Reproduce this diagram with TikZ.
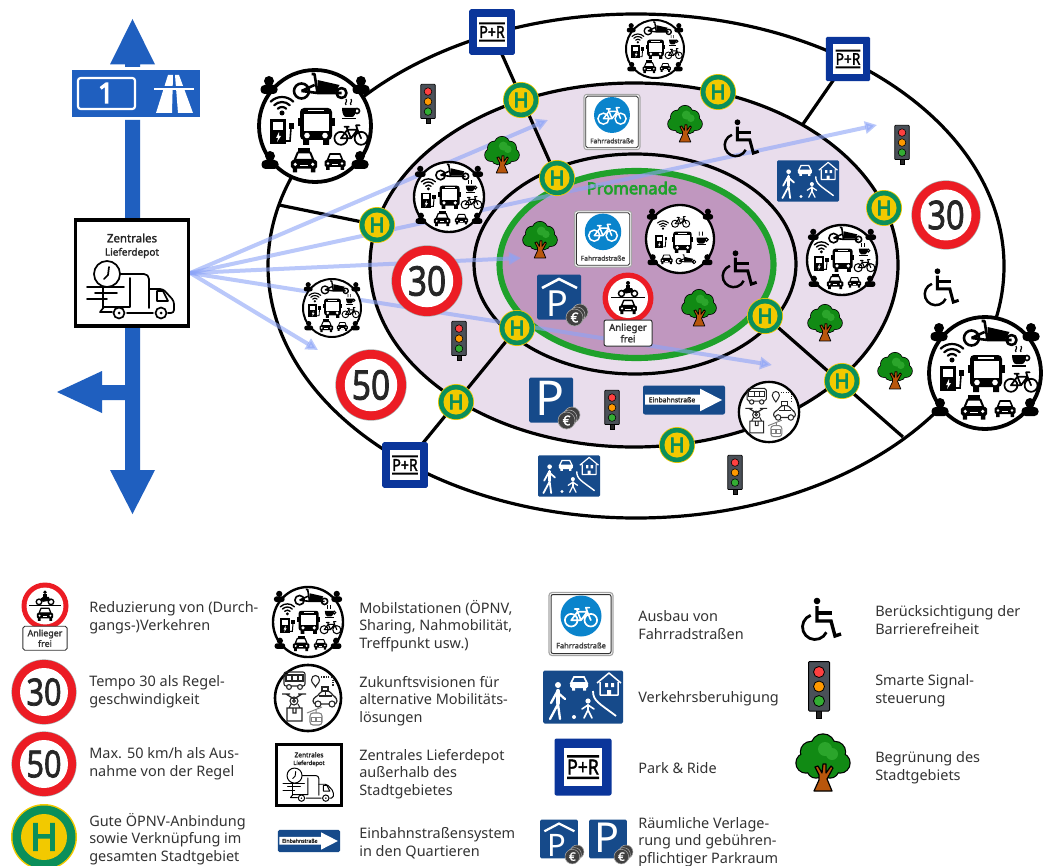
\documentclass[tikz,border=0pt]{standalone}
\usepackage{fontspec}
\setmainfont{Noto Sans}[BoldFont={Noto Sans},BoldFeatures={FakeBold=2}]
\newfontfamily\xbold{Noto Sans}[FakeBold=4]
\usetikzlibrary{arrows.meta}
\definecolor{roadblue}{HTML}{1F5FBF}
\definecolor{signblue}{HTML}{164A8A}
\definecolor{prblue}{HTML}{0A359A}
\definecolor{cycblue}{HTML}{0A84CC}
\definecolor{lilac}{HTML}{E9DDEC}
\definecolor{promfill}{HTML}{C097BF}
\definecolor{promgreen}{HTML}{1FA12B}
\definecolor{hgreen}{HTML}{0B8F5A}
\definecolor{hyellow}{HTML}{F2C900}
\definecolor{signred}{HTML}{EC1C24}
\definecolor{flow}{HTML}{8CA4F8}
\definecolor{treeg}{HTML}{118A14}
\definecolor{treel}{HTML}{2BA52B}
\definecolor{trunk}{HTML}{B8560C}
\definecolor{lamp}{HTML}{4A5058}
\definecolor{txt}{HTML}{333333}
\newcount\nodecnt
\tikzset{
  autoname/.code={\global\advance\nodecnt by 1 \tikzset{name=n\the\nodecnt}},
  every node/.style={transform shape,autoname,inner sep=0pt},
  w/.style={line width=\Sc*#1*.75pt},
  rc/.style={rounded corners=\Sc*#1*.75pt},
  ring/.style={line width=2.4pt,draw=black},
  spoke/.style={line width=2.4pt,draw=black},
  flowarrow/.style={line width=3pt,draw=flow,opacity=.6,-{Triangle[length=9pt,width=9pt]}},
  legend/.style={anchor=west,align=left,text=txt,font=\fontsize{10.85}{13.2}\selectfont},
}
\def\Sc{1}
\newenvironment{ic}[3]{\begin{scope}[shift={(#1,#2)},scale=#3]\pgfmathsetmacro\Sc{\Sc*#3}}{\end{scope}}
\newcommand\Arc[5]{({#1+#3*cos(#4)},{#2+#3*sin(#4)}) arc [start angle=#4,end angle=#5,radius=#3]}
% ---- small pictograms
\newcommand\Bike[4]{\begin{ic}{#1}{#2}{#3}
 \draw[draw=#4,w=2.4,line join=round,line cap=round] (-14,6) circle[radius=9] (14,6) circle[radius=9] (-14,6)--(-5,-6)--(9,-6)--(14,6) (-14,6)--(0,6)--(-5,-6) (0,6)--(9,-6) (-9,-10)--(-3,-10) (-5,-6)--(-6,-10) (9,-6)--(7,-12)--(12,-12);
 \end{ic}}
\newcommand\Cargo[3]{\begin{ic}{#1}{#2}{#3}
 \draw[w=2.6,line join=round] (-19,4) circle[radius=7.5] (21,6) circle[radius=5] (-19,4)--(-6,-2) (-19,4)--(-3,6)--(21,6) (-9,-13)--(-6,-13)--(-3,6);
 \fill (-3,-7)--(19,-2)--(15,5)--(-3,5)--cycle;
 \end{ic}}
\newcommand\Wifi[3]{\begin{ic}{#1}{#2}{#3}
 \fill (0,6) circle[radius=2.5];
 \draw[w=2.2,line cap=round] \Arc{0}{6}{6}{-135}{-45}{} \Arc{0}{6}{11}{-135}{-45}{} \Arc{0}{6}{16}{-135}{-45}{};
 \end{ic}}
\newcommand\Charger[3]{\begin{ic}{#1}{#2}{#3}
 \fill (-12.5,-13) rectangle (4,12);
 \fill[white] (-9,-10) rectangle (1,-2);
 \fill[white] (-3,0)--(-6,6)--(-4,6)--(-5,10)--(-1,4)--(-3,4)--cycle;
 \draw[w=1.6] (4,9)--(8,9)--(9,-4);
 \fill (6.5,-9) rectangle (12,-3);
 \end{ic}}
\newcommand\Bus[3]{\begin{ic}{#1}{#2}{#3}
 \fill[rc=4] (-16,-18) rectangle (16,14);
 \fill (-18.5,-8) rectangle (18.5,0);
 \fill (-13,13) rectangle (-7,19) (7,13) rectangle (13,19);
 \fill[white] (-12.5,-12) rectangle (12.5,5);
 \fill[white] (-8,-16) rectangle (8,-14.5);
 \fill[white] (-9,9.5) circle[radius=2.8] (9,9.5) circle[radius=2.8];
 \end{ic}}
\newcommand\Coffee[3]{\begin{ic}{#1}{#2}{#3}
 \fill (-8,-2) -- (6,-2) .. controls (6,4) and (4,7) .. (2,7) -- (-4,7) .. controls (-6,7) and (-8,4) .. (-8,-2);
 \draw[w=1.6] (7,1) circle[radius=2.5];
 \fill (-8,8) rectangle (6,9.5);
 \draw[w=1.2] (-4,-5) .. controls (-6,-7) and (-2,-8) .. (-4,-11) (1,-5) .. controls (-1,-7) and (3,-8) .. (1,-11);
 \end{ic}}
\newcommand\Car[3]{\begin{ic}{#1}{#2}{#3}
 \draw[w=1.6,fill=white,line join=round] (-7.5,0)--(-5,-6)--(5,-6)--(7.5,0)--cycle;
 \fill[rc=1.5] (-10.5,0) rectangle (10.5,7);
 \fill (-9,6) rectangle (-5.5,10) (5.5,6) rectangle (9,10);
 \fill[white] (-7,3.5) circle[radius=1.4] (7,3.5) circle[radius=1.4];
 \fill[white] (-3,4) rectangle (3,5);
 \end{ic}}
\newcommand\Taxi[3]{\begin{ic}{#1}{#2}{#3}
 \Car{0}{0}{1}
 \fill (-4.5,-9.5) rectangle (4.5,-6);
 \end{ic}}
\newcommand\Person[2]{\begin{ic}{#1}{#2}{1}
 \fill (0,-7) circle[radius=5];
 \fill[rc=4] (-8.5,-3) rectangle (8.5,6);
 \end{ic}}
\newcommand\Mobil[4]{\pgfmathsetmacro\rs{#3/56}\begin{ic}{#1}{#2}{\rs}
 \fill[white] (0,0) circle[radius=56];
 \draw[w=3.8] (0,0) circle[radius=56];
 \Person{-46}{-38}\Person{46}{-38}\Person{-45}{37}\Person{45}{37}
 \ifnum#4=0
  \Cargo{5.5}{-39}{1}\Wifi{-33}{-19}{1}\Charger{-33}{6}{1}\Bus{1}{0}{1}\Coffee{35}{-16}{1}\Bike{36}{8}{.72}{black}\Taxi{-11}{34}{1.25}\Car{20}{34}{1}
 \else
  \Bike{1}{-29}{.65}{black}\Wifi{-28}{-22}{.8}\Charger{-31}{5}{.85}\Bus{4}{5}{.95}\Coffee{36}{0}{1.1}\Car{-22}{32}{.95}\Cargo{10}{34}{.62}
 \fi
 \end{ic}}
\newcommand\Limit[4]{\pgfmathsetmacro\rs{#3/32}\begin{ic}{#1}{#2}{\rs}
 \fill[gray!70] (0,0) circle[radius=32.6];
 \fill[signred] (0,0) circle[radius=32];
 \fill[white] (0,0) circle[radius=24];
 \node[xscale=.82,text=black!85,font=\fontsize{28}{28}\selectfont\bfseries] at (0,0) {#4};
 \end{ic}}
\newcommand\Hsign[3]{\pgfmathsetmacro\rs{#3/33}\begin{ic}{#1}{#2}{\rs}
 \fill[hyellow] (0,0) circle[radius=33];
 \fill[hgreen] (0,0) circle[radius=31.5];
 \fill[hyellow] (0,0) circle[radius=23];
 \node[text=hgreen,font=\xbold\fontsize{28}{28}\selectfont] at (0,0) {H};
 \end{ic}}
\newcommand\PRsign[3]{\begin{ic}{#1}{#2}{#3}
 \fill[prblue,rc=2] (-28.5,-28.5) rectangle (28.5,28.5);
 \fill[white] (-19,-19) rectangle (19,19);
 \fill[black] (-16,-12) rectangle (16,-9.5) (-16,9.5) rectangle (16,12);
 \node[xscale=.85,font=\fontsize{15.5}{15.5}\selectfont\bfseries] at (0,0) {P+R};
 \end{ic}}
\newcommand\Fahrrad[3]{\begin{ic}{#1}{#2}{#3}
 \fill[white,draw=gray!70,w=1.2,rc=3] (-32,-31.5) rectangle (32,31.5);
 \draw[black!80,w=1,rc=2] (-30,-29.5) rectangle (30,29.5);
 \fill[cycblue] (0,-8) circle[radius=20.5];
 \Bike{0}{-8}{.7}{white}
 \node[text=black!75,font=\fontsize{5.6}{6}\selectfont\bfseries] at (0,21.5) {Fahrradstraße};
 \end{ic}}
\newcommand\Park[4]{\begin{ic}{#1}{#2}{#3}
 \fill[signblue,rc=1.5] (-22,-22.5) rectangle (22,22.5);
 \ifnum#4=0
  \node[text=white,font=\fontsize{36}{36}\selectfont] at (-1,-2) {P};
 \else
  \draw[white,w=2.6] (-17,-9)--(0,-18)--(18,-9);
  \node[text=white,font=\fontsize{27}{27}\selectfont] at (-2,7) {P};
 \fi
 \draw[gray!70,fill=black!75,w=.6] (21,15) circle[radius=8] (18,18) circle[radius=8];
 \draw[gray!70,fill=black!75,w=.6] (15.5,20.5) circle[radius=8.5];
 \node[text=white,font=\fontsize{10}{10}\selectfont\bfseries] at (15.5,20.5) {€};
 \end{ic}}
\newcommand\Moto[3]{\begin{ic}{#1}{#2}{#3}
 \draw[w=1.5] (-6.5,3.5) circle[radius=3] (6.5,3.5) circle[radius=3];
 \fill (-6,1)--(-2,-2)--(4,-2)--(6,2)--(-2,3.5)--cycle;
 \fill (-2,-5.5) rectangle (2,-1);
 \fill (0,-7) circle[radius=2];
 \end{ic}}
\newcommand\Anlieger[3]{\pgfmathsetmacro\rs{#3/25.5}\begin{ic}{#1}{#2}{\rs}
 \fill[signred] (0,0) circle[radius=25.5];
 \fill[white] (0,0) circle[radius=20];
 \Moto{0}{-8}{1}
 \draw[w=1.2] (-17,-.5)--(17,-.5);
 \Car{0}{7.5}{.85}
 \fill[white,draw=black!80,w=1,rc=2] (-24,22) rectangle (24,48);
 \node[align=center,text=black!80,font=\fontsize{7.2}{8.6}\selectfont\bfseries] at (0,35) {Anlieger\\ frei};
 \end{ic}}
\newcommand\Einbahn[3]{\begin{ic}{#1}{#2}{#3}
 \fill[signblue,rc=2] (-41,-14.5) rectangle (41,14.5);
 \fill[white] (-39,-5.3)--(16,-5.3)--(16,-11.3)--(38,0)--(16,11.3)--(16,4.7)--(-39,4.7)--cycle;
 \node[text=black!85,font=\fontsize{5.1}{6}\selectfont\bfseries] at (-12,-.3) {Einbahnstraße};
 \end{ic}}
\newcommand\Tree[3]{\begin{ic}{#1}{#2}{#3}
 \def\cl{(0,-17) circle[radius=11.5] (-12,-11) circle[radius=10] (12,-11) circle[radius=10] (-17,0) circle[radius=9.5] (17,0) circle[radius=9.5] (-7,6) circle[radius=8.5] (7,6) circle[radius=8.5] (0,-3) circle[radius=12]}
 \draw[w=2.4] \cl;
 \fill[treeg] \cl;
 \fill[treel] (2,-14) circle[radius=7] (9,-9) circle[radius=6];
 \draw[fill=trunk,w=1.2,line join=round] (-9,28)--(-4,17)--(-4,12)--(-8,4)--(-5,3)--(-1,10)--(0,1)--(3,1)--(3,10)--(8,3)--(10,5)--(4,16)--(9,28)--cycle;
 \end{ic}}
\newcommand\Tlight[3]{\begin{ic}{#1}{#2}{#3}
 \draw[w=1,fill=black!85] (-2.8,20) rectangle (2.8,28);
 \draw[fill=lamp,w=1,rc=1] (-10.5,-28.5) rectangle (10.5,21);
 \draw[fill=red!75!white,w=.8] (0,-18) circle[radius=5.5];
 \draw[fill=orange!80!yellow,w=.8] (0,-3.5) circle[radius=5.5];
 \draw[fill=green!60!black!80!white,w=.8] (0,11) circle[radius=5.5];
 \end{ic}}
\newcommand\Wheelchair[3]{\begin{ic}{#1}{#2}{#3}
 \fill (-4,-19) circle[radius=3.3];
 \draw[w=3.4,line join=miter] (-4,-14)--(-4,1)--(10,1)--(14,16)--(20,14);
 \draw[w=3.2] (-4,-7)--(11,-7);
 \draw[w=2.8] \Arc{-6}{7}{12.5}{250}{25}{};
 \end{ic}}
\newcommand\Verkehr[3]{\begin{ic}{#1}{#2}{#3}
 \fill[signblue,rc=1.5] (-40,-26.5) rectangle (40,26.5);
 \fill[white] (-25,-12) circle[radius=3] (5,4) circle[radius=2.6] (-9,20) circle[radius=2];
 \draw[white,w=4.2,line cap=round] (-25,-6)--(-25,6);
 \draw[white,w=2.3,line cap=round,line join=round] (-25,7)--(-33,22) (-25,7)--(-23,22) (-32,6)--(-26,-5)--(-18,2);
 \draw[white,w=2.6,line cap=round] (5,8)--(5,13);
 \draw[white,w=1.6,line cap=round,line join=round] (5,13)--(1,21) (5,13)--(9,21) (-1,12)--(5,8)--(11,12);
 \draw[white,w=1.6,fill=signblue] (-12,-14)--(-9,-20)--(1,-20)--(4,-14)--cycle;
 \fill[white,rc=1.5] (-13,-14) rectangle (5,-9);
 \fill[white] (-11,-9) rectangle (-8,-6.5) (0,-9) rectangle (3,-6.5);
 \draw[white,w=1.5,line join=round] (14,-14)--(26,-24)--(38,-14) (17,-15)--(17,-2)--(35,-2)--(35,-15);
 \fill[white] (22,-14) rectangle (25,-10) (28,-14) rectangle (31,-10) (24,-7) rectangle (28,-2);
 \draw[white,w=1.8] (10,-6) .. controls (10,4) and (16,6) .. (33,19);
 \end{ic}}
\newcommand\Future[3]{\pgfmathsetmacro\rs{#3/34}\begin{ic}{#1}{#2}{\rs}
 \fill[white] (0,0) circle[radius=34];
 \draw[w=2.6] (0,0) circle[radius=33];
 \begin{scope}[draw=black!85]
 \draw[w=1.1,rc=2] (-24,-26) rectangle (-3,-12);
 \draw[w=1.1] (-22,-23) rectangle (-5,-17) (-16,-23)--(-16,-17) (-10,-23)--(-10,-17);
 \draw[w=1.1,fill=white] (-19,-11) circle[radius=2.4] (-8,-11) circle[radius=2.4];
 \draw[w=1.1] (3.5,-18) .. controls (3.5,-24) and (11.5,-24) .. (11.5,-18) .. controls (11.5,-15) and (8,-13) .. (7.5,-11) .. controls (7,-13) and (3.5,-15) .. (3.5,-18);
 \draw[w=1.1,densely dotted] (13,-21)--(25,-21)--(25,-12);
 \draw[w=1.2,rc=3,line join=round] (5,6)--(5,0)--(10,-2)--(13,-7)--(22,-7)--(25,-2)--(29,0)--(29,6)--cycle;
 \draw[w=1.1] (14,-11) rectangle (20,-7) (11,-2)--(24,-2) (17.5,-7)--(17.5,-2);
 \draw[w=1.1,fill=white] (10,6) circle[radius=3] (24,6) circle[radius=3];
 \draw[w=1.3] (-26,-4)--(-18,-4) (-10,-4)--(-2,-4) (-22,-4)--(-14,1)--(-6,-4);
 \draw[w=1.1] (-14,3) circle[radius=4] (-14,3) circle[radius=1.4];
 \draw[w=1.1] (-21,10) rectangle (-6,23) (-15,10)--(-15,15)--(-12,15)--(-12,10) (-19,10)--(-17,6) (-8,10)--(-10,6);
 \end{scope}
 \begin{scope}[draw=black!50]
 \draw[w=1] (-1,15)--(14,9) (8,11.5)--(8,15);
 \draw[w=1.1,rc=3] (2,15) rectangle (14,27);
 \draw[w=1] (3,19) rectangle (7.4,23) (8.6,19) rectangle (13,23);
 \end{scope}
 \end{ic}}
\newcommand\Depot[3]{\begin{ic}{#1}{#2}{#3}
 \fill[white] (-58,-54.5) rectangle (58,54.5);
 \draw[line width=2.5pt] (-56.5,-53) rectangle (56.5,53);
 \node[text=black!85,font=\fontsize{8.6}{9}\selectfont\bfseries] at (0,-35) {Zentrales};
 \node[text=black!85,font=\fontsize{7.5}{9}\selectfont\bfseries] at (0,-20) {Lieferdepot};
 \begin{scope}[line join=round,line cap=round]
 \draw[w=1.7,rc=5] (-12,1)--(17,1)--(17,35);
 \draw[w=1.7,rc=3] (17,16)--(31,16)--(42,28)--(42,40)--(36,40);
 \draw[w=1.7] (25,18)--(31,18)--(36,28)--(25,28)--cycle;
 \draw[w=1.7] (-20,39)--(-32,39)--(-28,34)--(-2,34)--(-2,5) (-5,40)--(21,40) ;
 \draw[w=1.7] (-45,14)--(-8,14) (-37,20)--(-15,20) (-45,26)--(-25,26) (-29,14)--(-29,35);
 \draw[w=1.7,fill=white] (-25,1) circle[radius=13];
 \draw[w=1.7] (-23,-6)--(-24,2)--(-28,6);
 \draw[w=1.7,fill=white] (-13,40) circle[radius=5.5] (29,40) circle[radius=5.5];
 \fill (-13,40) circle[radius=1.5] (29,40) circle[radius=1.5];
 \end{scope}
 \end{ic}}
\begin{document}
\begin{tikzpicture}[x=.75pt,y=-.75pt]
\useasboundingbox (0,0) rectangle (1052,866);
\fill[white] (0,0) rectangle (1052,866);
% ---- ring road ellipses
\draw[ring,fill=white] (636,266) ellipse [x radius=368,y radius=252];
\draw[ring,fill=lilac] (634,265) ellipse [x radius=264,y radius=182];
\draw[ring,fill=lilac] (635,264) ellipse [x radius=161,y radius=110];
\draw[line width=4.6pt,draw=promgreen,fill=promfill] (636.5,264.5) ellipse [x radius=137,y radius=93.5];
\node[text=promgreen,font=\xbold\fontsize{12.4}{14}\selectfont] (prom) at (632,188) {Promenade};
% ---- named anchors
\node (dep) at (132,273) [minimum width=87pt,minimum height=82pt] {};
\coordinate (pr1) at (492,32);
\coordinate (pr2) at (848,59);
\coordinate (pr3) at (405,465);
\coordinate (h1) at (377,225);
\coordinate (h2) at (521,100);
\coordinate (h3) at (718,92);
\coordinate (h4) at (557,178);
\coordinate (h5) at (884,208);
\coordinate (h6) at (517,328);
\coordinate (h7) at (765,316);
\coordinate (h8) at (456,402);
\coordinate (h9) at (842,381);
\coordinate (h10) at (677,445);
\coordinate (c1) at (803,124);
\coordinate (c2) at (279,205);
\coordinate (c3) at (903,437);
\coordinate (a1) at (548,120);
\coordinate (a2) at (877,125);
\coordinate (a3) at (521,258);
\coordinate (a4) at (772,365);
\coordinate (a5) at (318,350);
% ---- spokes
\draw[spoke] (pr1)--(h4);
\draw[spoke] (pr2)--(c1);
\draw[spoke] (c2)--(h1);
\draw[spoke] (pr3)--(h6);
\draw[spoke] (h7)--(c3);
% ---- delivery flows
\foreach \e in {a1,a2,a3,a4,a5}{\draw[flowarrow] (dep.east)--(\e);}
% ---- motorway
\fill[roadblue] (125,120) rectangle (140,219) (125,328) rectangle (140,472);
\fill[roadblue] (110,64.5)--(132.5,19)--(155,64.5)--(140,64.5)--(140,67)--(125,67)--(125,64.5)--cycle;
\fill[roadblue] (110,470)--(132.5,514)--(155,470)--cycle;
\fill[roadblue] (57,392)--(102,371)--(102,385)--(125,385)--(125,400)--(102,400)--(102,413)--cycle;
\fill[roadblue] (72,70) rectangle (200,117);
\draw[white,line width=1.6pt,rounded corners=2pt] (78,78) rectangle (135,109);
\node[text=white,font=\xbold\fontsize{21}{21}\selectfont] (a1num) at (106,93) {1};
\fill[white] (156,113)--(168,75)--(173,75)--(172,113)--cycle;
\fill[white] (193,113)--(179,75)--(175,75)--(178,113)--cycle;
\draw[roadblue,line width=2.4pt] (158,88)--(190,88);
\draw[white,line width=1.2pt] (154,89)--(194,89);
\Depot{132}{273}{1}
% ---- diagram signs
\foreach \p in {h1,h2,h3,h4,h5,h6,h7,h8,h9,h10}{\path (\p); \pgfgetlastxy{\px}{\py}\pgfmathsetmacro\qx{\px/.75}\pgfmathsetmacro\qy{-\py/.75}\Hsign{\qx}{\qy}{18}}
\PRsign{492}{32}{.8}
\PRsign{848}{59}{.78}
\PRsign{405}{465}{.8}
\Mobil{315}{126}{56}{0}
\Mobil{449}{197}{35}{0}
\Mobil{332}{308}{29}{0}
\Mobil{655}{49}{29}{0}
\Mobil{842}{260}{35}{0}
\Mobil{985}{373}{56}{0}
\Mobil{680}{239}{34}{1}
\Future{769}{412}{31}
\Tree{502}{155}{.64}
\Tree{685}{124}{.64}
\Tree{540}{240}{.64}
\Tree{699}{308}{.64}
\Tree{825}{323}{.64}
\Tree{895}{371}{.64}
\Tlight{428}{104}{.69}
\Tlight{459}{341}{.69}
\Tlight{612}{410}{.69}
\Tlight{735}{475}{.69}
\Tlight{902}{145}{.69}
\Wheelchair{741}{139}{.88}
\Wheelchair{941}{288}{.88}
\Wheelchair{739}{270}{.88}
\Limit{427}{281}{35}{30}
\Limit{946}{215}{34}{30}
\Limit{371}{385}{35}{50}
\Fahrrad{612}{122}{.875}
\Fahrrad{603}{239}{.89}
\Park{559}{297}{1}{1}
\Park{551}{400}{1}{0}
\Anlieger{628}{298}{25.5}
\Einbahn{684}{400}{1}
\Verkehr{569}{476}{.775}
\Verkehr{808}{181}{.775}
% ---- legend icons
\Anlieger{45}{606}{23.5}
\Limit{44}{692}{32}{30}
\Limit{44}{764}{32}{50}
\Hsign{44}{837}{33}
\Mobil{308}{622}{35}{0}
\Future{308}{698}{34}
\Depot{309}{775}{.578}
\Einbahn{309}{841}{.76}
\Fahrrad{581}{624}{1}
\Verkehr{583}{697}{1}
\PRsign{583}{767}{1}
\Park{559}{839}{.86}{1}
\Park{608}{839}{.86}{0}
\Wheelchair{821}{620}{1}
\Tlight{819}{690}{1}
\Tree{823}{763}{1}
% ---- legend text
\node[legend] (l1) at (89,618) {Reduzierung von (Durch-\\gangs-)Verkehren};
\node[legend] (l2) at (89,692) {Tempo 30 als Regel-\\geschwindigkeit};
\node[legend] (l3) at (89,764) {Max. 50 km/h als Aus-\\nahme von der Regel};
\node[legend] (l4) at (89,839) {Gute ÖPNV-Anbindung\\sowie Verknüpfung im\\gesamten Stadtgebiet};
\node[legend] (l5) at (359,626) {Mobilstationen (ÖPNV,\\Sharing, Nahmobilität,\\Treffpunkt usw.)};
\node[legend] (l6) at (359,701) {Zukunftsvisionen für\\alternative Mobilitäts-\\lösungen};
\node[legend] (l7) at (359,774) {Zentrales Lieferdepot\\außerhalb des\\Stadtgebietes};
\node[legend] (l8) at (359,843) {Einbahnstraßensystem\\in den Quartieren};
\node[legend] (l9) at (638,625) {Ausbau von\\Fahrradstraßen};
\node[legend] (l10) at (638,699) {Verkehrsberuhigung};
\node[legend] (l11) at (638,768) {Park \& Ride};
\node[legend] (l12) at (638,842) {Räumliche Verlage-\\rung und gebühren-\\pflichtiger Parkraum};
\node[legend] (l13) at (875,620) {Berücksichtigung der\\Barrierefreiheit};
\node[legend] (l14) at (875,691) {Smarte Signal-\\steuerung};
\node[legend] (l15) at (875,768) {Begrünung des\\Stadtgebiets};
\end{tikzpicture}
\end{document}
